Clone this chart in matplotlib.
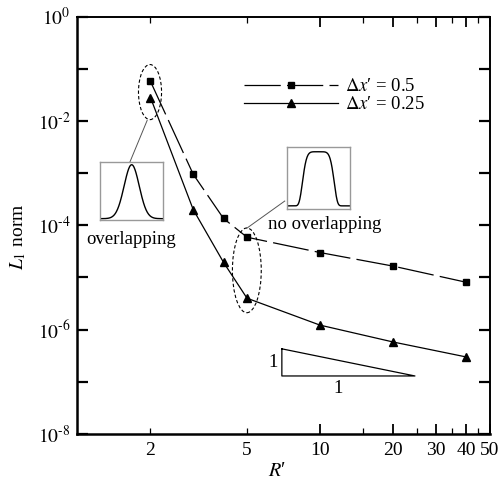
import numpy as np
import matplotlib
matplotlib.use("Agg")
import matplotlib.pyplot as plt
from matplotlib.patches import Ellipse
from matplotlib.ticker import FixedLocator, FixedFormatter

plt.rcParams['font.family'] = ['Liberation Serif', 'DejaVu Serif']
plt.rcParams['mathtext.fontset'] = 'stix'

# ---- data ----
R_vals = [2, 3, 4, 5, 10, 20, 40]
L1_dx05 = [5.7e-2, 9.5e-4, 1.35e-4, 5.9e-5, 3.0e-5, 1.65e-5, 8.1e-6]
L1_dx025 = [2.8e-2, 2.0e-4, 1.95e-5, 4.0e-6, 1.22e-6, 5.8e-7, 3.0e-7]
series_labels = ["$\\Delta x$\u2032 = 0.5", "$\\Delta x$\u2032 = 0.25"]

x_major = [10, 20, 30, 40, 50]
x_major_labels = ["10", "20", "30", "40", "50"]
x_minor = [2, 5, 15, 25, 35, 45]
x_minor_labels = ["2", "5", "", "", "", ""]
y_major = [1e0, 1e-1, 1e-2, 1e-3, 1e-4, 1e-5, 1e-6, 1e-7, 1e-8]
y_major_labels = [r"$10^{0}$", "", r"$10^{\text{-}2}$", "", r"$10^{\text{-}4}$", "",
                  r"$10^{\text{-}6}$", "", r"$10^{\text{-}8}$"]

fig = plt.figure(figsize=(4.99, 4.86), dpi=100)
ax = fig.add_axes([0.1553, 0.107, 0.8257, 0.859])
ax.set_xscale('log')
ax.set_yscale('log')
ax.set_xlim(1, 50)
ax.set_ylim(1e-8, 1e0)

ax.plot(R_vals, L1_dx05, color='black', lw=0.9, dashes=(29, 5),
        marker='s', markersize=4.6, label=series_labels[0])
ax.plot(R_vals, L1_dx025, color='black', lw=0.9, linestyle='-',
        marker='^', markersize=5.8, label=series_labels[1])

leg = ax.legend(loc='upper left', bbox_to_anchor=(0.405, 0.852), frameon=False,
                fontsize=13.5, handlelength=5.0, handletextpad=0.35,
                labelspacing=0.05, borderpad=0, borderaxespad=0)

# ticks
ax.xaxis.set_major_locator(FixedLocator(x_major))
ax.xaxis.set_major_formatter(FixedFormatter(x_major_labels))
ax.xaxis.set_minor_locator(FixedLocator(x_minor))
ax.xaxis.set_minor_formatter(FixedFormatter(x_minor_labels))
ax.yaxis.set_major_locator(FixedLocator(y_major))
ax.yaxis.set_major_formatter(FixedFormatter(y_major_labels))
ax.yaxis.set_minor_locator(FixedLocator([]))

ax.tick_params(axis='both', which='major', direction='in', top=True, right=True,
               labelsize=14, pad=6)
ax.tick_params(axis='x', which='major', length=7, width=1.3)
ax.tick_params(axis='x', which='minor', direction='in', top=True, length=4,
               width=0.9, labelsize=14, pad=6)
ax.tick_params(axis='y', which='major', length=8, width=1.6, pad=5)

for s in ['left', 'bottom']:
    ax.spines[s].set_linewidth(1.8)
for s in ['top', 'right']:
    ax.spines[s].set_linewidth(1.4)

ax.set_xlabel("$R$\u2032", fontsize=14.5)
ax.xaxis.set_label_coords(0.485, -0.068)
ax.set_ylabel("$L_1$ norm", fontsize=14)
ax.yaxis.set_label_coords(-0.12, 0.472)

# annotations (axes coordinates)
T = ax.transAxes
ax.add_patch(Ellipse((0.176, 0.819), 0.056, 0.132, transform=T, fill=False,
                     ls=(0, (3, 2)), lw=0.8, color='black'))
ax.add_patch(Ellipse((0.411, 0.392), 0.070, 0.203, transform=T, fill=False,
                     ls=(0, (3, 2)), lw=0.8, color='black'))

ax.plot([0.127, 0.169], [0.651, 0.751], transform=T, color='#555555', lw=0.7)
ax.plot([0.503, 0.411], [0.558, 0.493], transform=T, color='#555555', lw=0.7)

# insets
def gauss(x):
    return 0.02 + 0.93 * np.exp(-(x - 0.5) ** 2 / (2 * 0.12 ** 2))

def flat(x):
    return 0.05 + 0.87 * np.exp(-((x - 0.5) / 0.26) ** 6)

for (x0, y0, w, h), func in [((0.055, 0.513, 0.153, 0.139), gauss),
                              ((0.508, 0.539, 0.153, 0.149), flat)]:
    ins = ax.inset_axes([x0, y0, w, h])
    xs = np.linspace(0, 1, 200)
    ins.plot(xs, func(xs), color='black', lw=1.0)
    ins.set_xlim(0, 1)
    ins.set_ylim(0, 1)
    ins.set_xticks([])
    ins.set_yticks([])
    for s in ins.spines.values():
        s.set_color('#999999')
        s.set_linewidth(1.0)

ax.text(0.130, 0.465, "overlapping", transform=T, ha='center', va='center', fontsize=13.5)
ax.text(0.601, 0.501, "no overlapping", transform=T, ha='center', va='center', fontsize=13.5)

# slope triangle
ax.plot([0.496, 0.496, 0.819, 0.496], [0.204, 0.139, 0.139, 0.204],
        transform=T, color='black', lw=0.9)
ax.text(0.475, 0.171, "1", transform=T, ha='center', va='center', fontsize=13.5)
ax.text(0.632, 0.108, "1", transform=T, ha='center', va='center', fontsize=13.5)

fig.savefig("out.png", dpi=100)
